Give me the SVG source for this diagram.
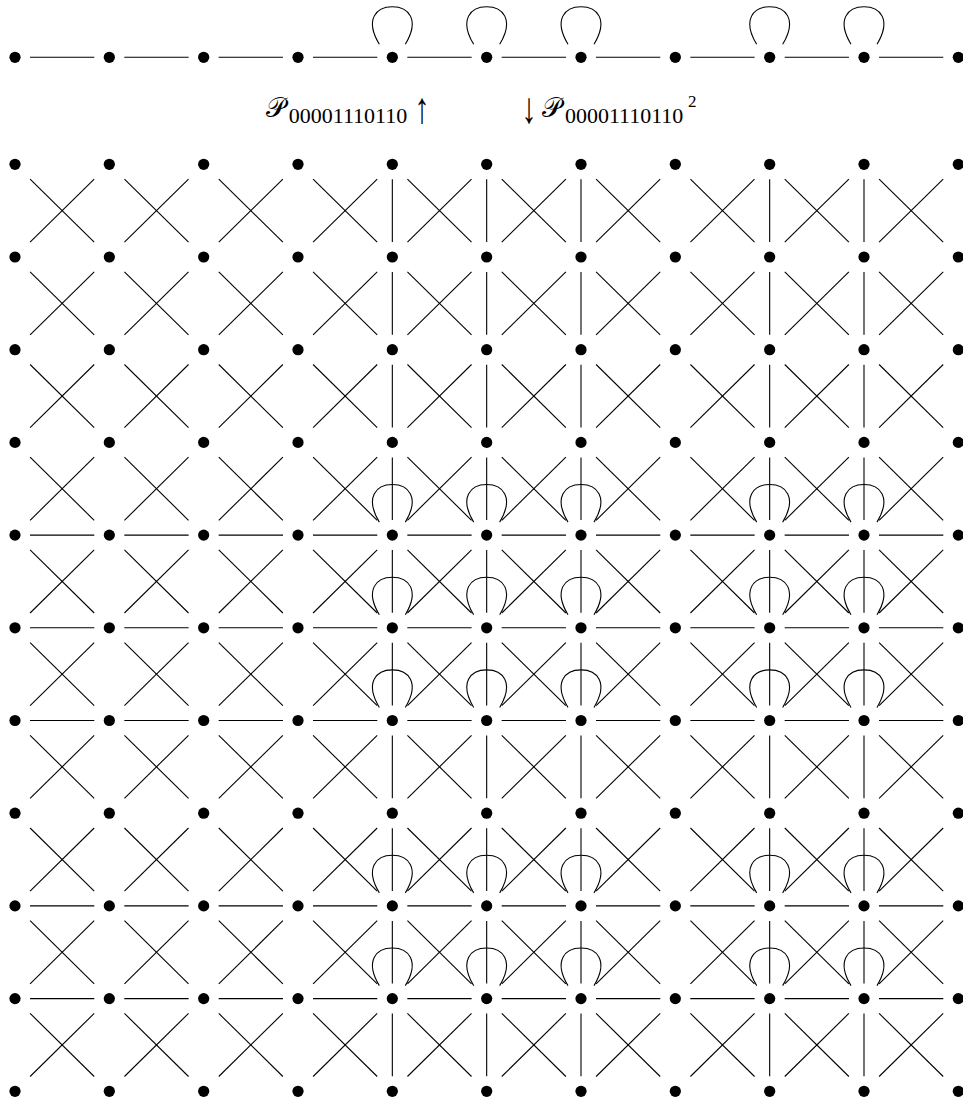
<svg xmlns="http://www.w3.org/2000/svg" xmlns:xlink="http://www.w3.org/1999/xlink" width="963" height="1100" viewBox="0 0 963 1100">
<style>
.e{stroke:#000;stroke-width:1.1;fill:none;stroke-linecap:butt}
.d{fill:#000}
.t{font-family:"Liberation Serif","DejaVu Serif",serif;fill:#000}
.m{font-family:"Liberation Serif","DejaVu Serif",serif;fill:#000}
</style>
<defs>
<circle id="dot" class="d" r="5.6" cx="0" cy="0"/>
<g id="X" class="e"><line x1="15.1" y1="14.8" x2="79.2" y2="77.9"/><line x1="79.2" y1="14.8" x2="15.1" y2="77.9"/></g>
<line id="V" class="e" x1="0" y1="15" x2="0" y2="77.7"/>
<line id="H" class="e" x1="15" y1="0" x2="79.3" y2="0"/>
<path id="L" class="e" d="M-13,-13 C-28,-38 -16,-50.6 0,-50.6 C16,-50.6 28,-38 13,-13"/>
<g id="Xrow"><use href="#X" x="15"/><use href="#X" x="109.33"/><use href="#X" x="203.67"/><use href="#X" x="298"/><use href="#X" x="392.33"/><use href="#X" x="486.67"/><use href="#X" x="581"/><use href="#X" x="675.33"/><use href="#X" x="769.67"/><use href="#X" x="864"/></g>
<g id="Vrow"><use href="#V" x="392.33"/><use href="#V" x="486.67"/><use href="#V" x="581"/><use href="#V" x="769.67"/><use href="#V" x="864"/></g>
<g id="Hrow"><use href="#H" x="15"/><use href="#H" x="109.33"/><use href="#H" x="203.67"/><use href="#H" x="298"/><use href="#H" x="392.33"/><use href="#H" x="486.67"/><use href="#H" x="581"/><use href="#H" x="675.33"/><use href="#H" x="769.67"/><use href="#H" x="864"/></g>
<g id="Lrow"><use href="#L" x="392.33"/><use href="#L" x="486.67"/><use href="#L" x="581"/><use href="#L" x="769.67"/><use href="#L" x="864"/></g>
</defs>
<rect width="963" height="1100" fill="#fff"/>
<g id="connectors">
<use href="#Hrow" y="57.3"/><use href="#Lrow" y="57.3"/>
<use href="#Xrow" y="164.3"/><use href="#Xrow" y="257"/><use href="#Xrow" y="349.7"/><use href="#Xrow" y="442.4"/><use href="#Xrow" y="535.1"/><use href="#Xrow" y="627.8"/><use href="#Xrow" y="720.5"/><use href="#Xrow" y="813.2"/><use href="#Xrow" y="905.9"/><use href="#Xrow" y="998.6"/>
<use href="#Vrow" y="164.3"/><use href="#Vrow" y="257"/><use href="#Vrow" y="349.7"/><use href="#Vrow" y="442.4"/><use href="#Vrow" y="535.1"/><use href="#Vrow" y="627.8"/><use href="#Vrow" y="720.5"/><use href="#Vrow" y="813.2"/><use href="#Vrow" y="905.9"/><use href="#Vrow" y="998.6"/>
<use href="#Hrow" y="535.1"/><use href="#Hrow" y="627.8"/><use href="#Hrow" y="720.5"/><use href="#Hrow" y="905.9"/><use href="#Hrow" y="998.6"/>
<use href="#Lrow" y="535.1"/><use href="#Lrow" y="627.8"/><use href="#Lrow" y="720.5"/><use href="#Lrow" y="905.9"/><use href="#Lrow" y="998.6"/>
</g>
<g id="labels">
<text class="t" x="266" y="117" font-size="27">𝒫</text>
<text class="t" x="288.7" y="123" font-size="21.5" textLength="118.6" lengthAdjust="spacingAndGlyphs">00001110110</text>
<text class="m" transform="translate(414.5,122.5) scale(1,1.45)" font-size="30">↑</text>
<text class="m" transform="translate(521.5,122.5) scale(1,1.45)" font-size="30">↓</text>
<text class="t" x="542" y="117" font-size="27">𝒫</text>
<text class="t" x="565" y="123" font-size="21.5" textLength="118.3" lengthAdjust="spacingAndGlyphs">00001110110</text>
<text class="t" x="688" y="106.7" font-size="17">2</text>
</g>
<g id="top-nodes">
<g id="t0"><use href="#dot" x="15" y="57.3"/></g>
<g id="t1"><use href="#dot" x="109.33" y="57.3"/></g>
<g id="t2"><use href="#dot" x="203.67" y="57.3"/></g>
<g id="t3"><use href="#dot" x="298" y="57.3"/></g>
<g id="t4"><use href="#dot" x="392.33" y="57.3"/></g>
<g id="t5"><use href="#dot" x="486.67" y="57.3"/></g>
<g id="t6"><use href="#dot" x="581" y="57.3"/></g>
<g id="t7"><use href="#dot" x="675.33" y="57.3"/></g>
<g id="t8"><use href="#dot" x="769.67" y="57.3"/></g>
<g id="t9"><use href="#dot" x="864" y="57.3"/></g>
<g id="t10"><use href="#dot" x="958.33" y="57.3"/></g>
</g>
<g id="grid-nodes">
<g id="n0-0"><use href="#dot" x="15" y="164.3"/></g><g id="n0-1"><use href="#dot" x="109.33" y="164.3"/></g><g id="n0-2"><use href="#dot" x="203.67" y="164.3"/></g><g id="n0-3"><use href="#dot" x="298" y="164.3"/></g><g id="n0-4"><use href="#dot" x="392.33" y="164.3"/></g><g id="n0-5"><use href="#dot" x="486.67" y="164.3"/></g><g id="n0-6"><use href="#dot" x="581" y="164.3"/></g><g id="n0-7"><use href="#dot" x="675.33" y="164.3"/></g><g id="n0-8"><use href="#dot" x="769.67" y="164.3"/></g><g id="n0-9"><use href="#dot" x="864" y="164.3"/></g><g id="n0-10"><use href="#dot" x="958.33" y="164.3"/></g>
<g id="n1-0"><use href="#dot" x="15" y="257"/></g><g id="n1-1"><use href="#dot" x="109.33" y="257"/></g><g id="n1-2"><use href="#dot" x="203.67" y="257"/></g><g id="n1-3"><use href="#dot" x="298" y="257"/></g><g id="n1-4"><use href="#dot" x="392.33" y="257"/></g><g id="n1-5"><use href="#dot" x="486.67" y="257"/></g><g id="n1-6"><use href="#dot" x="581" y="257"/></g><g id="n1-7"><use href="#dot" x="675.33" y="257"/></g><g id="n1-8"><use href="#dot" x="769.67" y="257"/></g><g id="n1-9"><use href="#dot" x="864" y="257"/></g><g id="n1-10"><use href="#dot" x="958.33" y="257"/></g>
<g id="n2-0"><use href="#dot" x="15" y="349.7"/></g><g id="n2-1"><use href="#dot" x="109.33" y="349.7"/></g><g id="n2-2"><use href="#dot" x="203.67" y="349.7"/></g><g id="n2-3"><use href="#dot" x="298" y="349.7"/></g><g id="n2-4"><use href="#dot" x="392.33" y="349.7"/></g><g id="n2-5"><use href="#dot" x="486.67" y="349.7"/></g><g id="n2-6"><use href="#dot" x="581" y="349.7"/></g><g id="n2-7"><use href="#dot" x="675.33" y="349.7"/></g><g id="n2-8"><use href="#dot" x="769.67" y="349.7"/></g><g id="n2-9"><use href="#dot" x="864" y="349.7"/></g><g id="n2-10"><use href="#dot" x="958.33" y="349.7"/></g>
<g id="n3-0"><use href="#dot" x="15" y="442.4"/></g><g id="n3-1"><use href="#dot" x="109.33" y="442.4"/></g><g id="n3-2"><use href="#dot" x="203.67" y="442.4"/></g><g id="n3-3"><use href="#dot" x="298" y="442.4"/></g><g id="n3-4"><use href="#dot" x="392.33" y="442.4"/></g><g id="n3-5"><use href="#dot" x="486.67" y="442.4"/></g><g id="n3-6"><use href="#dot" x="581" y="442.4"/></g><g id="n3-7"><use href="#dot" x="675.33" y="442.4"/></g><g id="n3-8"><use href="#dot" x="769.67" y="442.4"/></g><g id="n3-9"><use href="#dot" x="864" y="442.4"/></g><g id="n3-10"><use href="#dot" x="958.33" y="442.4"/></g>
<g id="n4-0"><use href="#dot" x="15" y="535.1"/></g><g id="n4-1"><use href="#dot" x="109.33" y="535.1"/></g><g id="n4-2"><use href="#dot" x="203.67" y="535.1"/></g><g id="n4-3"><use href="#dot" x="298" y="535.1"/></g><g id="n4-4"><use href="#dot" x="392.33" y="535.1"/></g><g id="n4-5"><use href="#dot" x="486.67" y="535.1"/></g><g id="n4-6"><use href="#dot" x="581" y="535.1"/></g><g id="n4-7"><use href="#dot" x="675.33" y="535.1"/></g><g id="n4-8"><use href="#dot" x="769.67" y="535.1"/></g><g id="n4-9"><use href="#dot" x="864" y="535.1"/></g><g id="n4-10"><use href="#dot" x="958.33" y="535.1"/></g>
<g id="n5-0"><use href="#dot" x="15" y="627.8"/></g><g id="n5-1"><use href="#dot" x="109.33" y="627.8"/></g><g id="n5-2"><use href="#dot" x="203.67" y="627.8"/></g><g id="n5-3"><use href="#dot" x="298" y="627.8"/></g><g id="n5-4"><use href="#dot" x="392.33" y="627.8"/></g><g id="n5-5"><use href="#dot" x="486.67" y="627.8"/></g><g id="n5-6"><use href="#dot" x="581" y="627.8"/></g><g id="n5-7"><use href="#dot" x="675.33" y="627.8"/></g><g id="n5-8"><use href="#dot" x="769.67" y="627.8"/></g><g id="n5-9"><use href="#dot" x="864" y="627.8"/></g><g id="n5-10"><use href="#dot" x="958.33" y="627.8"/></g>
<g id="n6-0"><use href="#dot" x="15" y="720.5"/></g><g id="n6-1"><use href="#dot" x="109.33" y="720.5"/></g><g id="n6-2"><use href="#dot" x="203.67" y="720.5"/></g><g id="n6-3"><use href="#dot" x="298" y="720.5"/></g><g id="n6-4"><use href="#dot" x="392.33" y="720.5"/></g><g id="n6-5"><use href="#dot" x="486.67" y="720.5"/></g><g id="n6-6"><use href="#dot" x="581" y="720.5"/></g><g id="n6-7"><use href="#dot" x="675.33" y="720.5"/></g><g id="n6-8"><use href="#dot" x="769.67" y="720.5"/></g><g id="n6-9"><use href="#dot" x="864" y="720.5"/></g><g id="n6-10"><use href="#dot" x="958.33" y="720.5"/></g>
<g id="n7-0"><use href="#dot" x="15" y="813.2"/></g><g id="n7-1"><use href="#dot" x="109.33" y="813.2"/></g><g id="n7-2"><use href="#dot" x="203.67" y="813.2"/></g><g id="n7-3"><use href="#dot" x="298" y="813.2"/></g><g id="n7-4"><use href="#dot" x="392.33" y="813.2"/></g><g id="n7-5"><use href="#dot" x="486.67" y="813.2"/></g><g id="n7-6"><use href="#dot" x="581" y="813.2"/></g><g id="n7-7"><use href="#dot" x="675.33" y="813.2"/></g><g id="n7-8"><use href="#dot" x="769.67" y="813.2"/></g><g id="n7-9"><use href="#dot" x="864" y="813.2"/></g><g id="n7-10"><use href="#dot" x="958.33" y="813.2"/></g>
<g id="n8-0"><use href="#dot" x="15" y="905.9"/></g><g id="n8-1"><use href="#dot" x="109.33" y="905.9"/></g><g id="n8-2"><use href="#dot" x="203.67" y="905.9"/></g><g id="n8-3"><use href="#dot" x="298" y="905.9"/></g><g id="n8-4"><use href="#dot" x="392.33" y="905.9"/></g><g id="n8-5"><use href="#dot" x="486.67" y="905.9"/></g><g id="n8-6"><use href="#dot" x="581" y="905.9"/></g><g id="n8-7"><use href="#dot" x="675.33" y="905.9"/></g><g id="n8-8"><use href="#dot" x="769.67" y="905.9"/></g><g id="n8-9"><use href="#dot" x="864" y="905.9"/></g><g id="n8-10"><use href="#dot" x="958.33" y="905.9"/></g>
<g id="n9-0"><use href="#dot" x="15" y="998.6"/></g><g id="n9-1"><use href="#dot" x="109.33" y="998.6"/></g><g id="n9-2"><use href="#dot" x="203.67" y="998.6"/></g><g id="n9-3"><use href="#dot" x="298" y="998.6"/></g><g id="n9-4"><use href="#dot" x="392.33" y="998.6"/></g><g id="n9-5"><use href="#dot" x="486.67" y="998.6"/></g><g id="n9-6"><use href="#dot" x="581" y="998.6"/></g><g id="n9-7"><use href="#dot" x="675.33" y="998.6"/></g><g id="n9-8"><use href="#dot" x="769.67" y="998.6"/></g><g id="n9-9"><use href="#dot" x="864" y="998.6"/></g><g id="n9-10"><use href="#dot" x="958.33" y="998.6"/></g>
<g id="n10-0"><use href="#dot" x="15" y="1091.3"/></g><g id="n10-1"><use href="#dot" x="109.33" y="1091.3"/></g><g id="n10-2"><use href="#dot" x="203.67" y="1091.3"/></g><g id="n10-3"><use href="#dot" x="298" y="1091.3"/></g><g id="n10-4"><use href="#dot" x="392.33" y="1091.3"/></g><g id="n10-5"><use href="#dot" x="486.67" y="1091.3"/></g><g id="n10-6"><use href="#dot" x="581" y="1091.3"/></g><g id="n10-7"><use href="#dot" x="675.33" y="1091.3"/></g><g id="n10-8"><use href="#dot" x="769.67" y="1091.3"/></g><g id="n10-9"><use href="#dot" x="864" y="1091.3"/></g><g id="n10-10"><use href="#dot" x="958.33" y="1091.3"/></g>
</g>
</svg>
